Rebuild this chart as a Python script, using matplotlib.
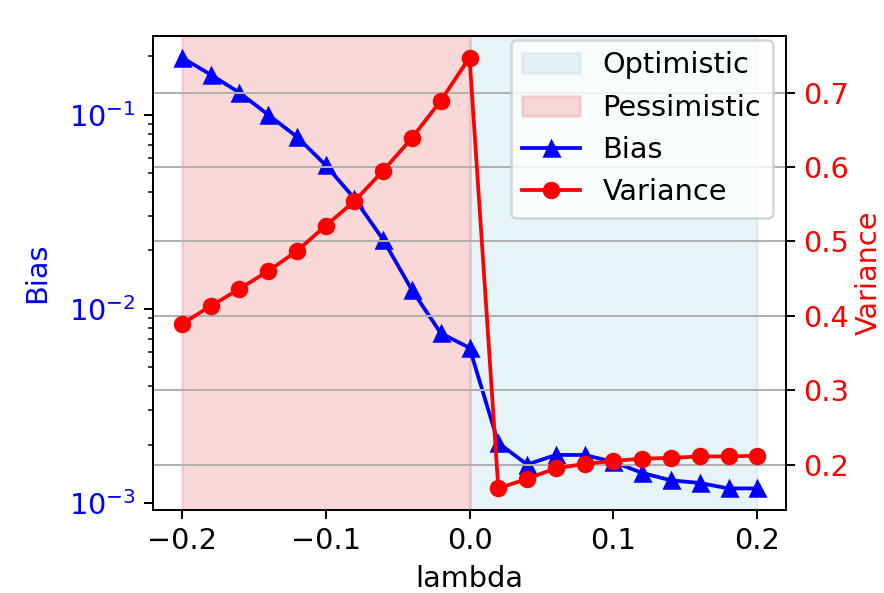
import numpy as np
import matplotlib
matplotlib.use("Agg")
import matplotlib.pyplot as plt

lam = [-0.2, -0.18, -0.16, -0.14, -0.12, -0.1, -0.08, -0.06, -0.04, -0.02, 0.0,
       0.02, 0.04, 0.06, 0.08, 0.1, 0.12, 0.14, 0.16, 0.18, 0.2]
bias = [0.197, 0.161, 0.130, 0.100, 0.077, 0.055, 0.037, 0.0227, 0.0125, 0.0075, 0.0063,
        0.00204, 0.00158, 0.00177, 0.00177, 0.00163, 0.00143, 0.00131, 0.00127, 0.00119, 0.00119]
variance = [0.389, 0.413, 0.436, 0.460, 0.487, 0.521, 0.554, 0.595, 0.639, 0.689, 0.747,
            0.168, 0.181, 0.195, 0.201, 0.205, 0.208, 0.209, 0.211, 0.211, 0.212]

plt.rcParams['font.size'] = 11.5

dpi = 180
fig = plt.figure(figsize=(884 / dpi, 593 / dpi), dpi=dpi)
ax = fig.add_axes([0.1731, 0.140, 0.7161, 0.7993])

s1 = ax.axvspan(0.0, 0.2, color='lightblue', alpha=0.3, label='Optimistic')
s2 = ax.axvspan(-0.2, 0.0, color='lightcoral', alpha=0.3, label='Pessimistic')
l1, = ax.plot(lam, bias, 'b-^', label='Bias')
ax.set_yscale('log')
ax.set_xlabel('lambda')
ax.set_ylabel('Bias', color='b', labelpad=7)
ax.tick_params(axis='y', labelcolor='b')

ax2 = ax.twinx()
l2, = ax2.plot(lam, variance, 'r-o', label='Variance')
ax2.set_ylabel('Variance', color='r', labelpad=2)
ax2.tick_params(axis='y', labelcolor='r')
ax2.grid(True)

ax2.legend([s1, s2, l1, l2], ['Optimistic', 'Pessimistic', 'Bias', 'Variance'],
           loc='upper right', bbox_to_anchor=(0.979, 0.992), borderaxespad=0)

fig.savefig('out.png', dpi=dpi)
